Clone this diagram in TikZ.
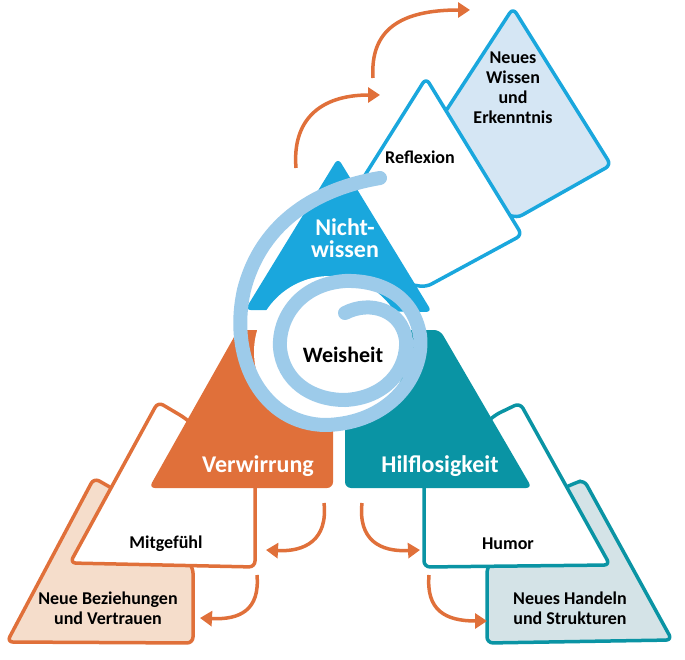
\documentclass[tikz,border=0pt]{standalone}
\usepackage{fontspec}
\setmainfont{Carlito}
\usetikzlibrary{arrows.meta}
\definecolor{cblue}{HTML}{1AA7DD}
\definecolor{corange}{HTML}{E0703A}
\definecolor{cteal}{HTML}{0A94A4}
\definecolor{cspiral}{HTML}{9DCBEA}
\definecolor{cpeach}{HTML}{F5DDCB}
\definecolor{cgrey}{HTML}{D4E3E7}
\definecolor{clight}{HTML}{D5E6F4}
\begin{document}
\begin{tikzpicture}[x=1pt,y=-1pt,
  sh/.style={line width=3.5pt,rounded corners=6pt,line join=round},
  arr/.style={corange,line width=3.5pt,-{Triangle[length=12pt,width=15pt]}},
  lab/.style={font=\bfseries\fontsize{18}{20}\selectfont,align=center,text=black},
  big/.style={font=\bfseries\fontsize{24}{24}\selectfont,align=center,text=white}]
\useasboundingbox (0,0) rectangle (685,660);
% top stack
\draw[sh,cblue,fill=clight] (513,8) -- (611,165) -- (517,218) -- (470,200) -- (440,120) -- cycle;
\draw[sh,cblue,fill=white] (426,78) -- (522,235) -- (426,287) -- (380,280) -- (340,215) -- cycle;
% left stack
\draw[sh,corange,fill=cpeach] (94,478) -- (115,490) -- (193,567) -- (193,643) -- (7,642) -- cycle;
\draw[sh,corange,fill=white] (158,402) -- (185,418) -- (255,480) -- (255,567) -- (70,563) -- cycle;
% right stack
\draw[sh,cteal,fill=cgrey] (584,480) -- (672,640) -- (487,643) -- (487,567) -- (560,490) -- (575,483) -- cycle;
\draw[sh,cteal,fill=white] (520,403) -- (610,565) -- (424,567) -- (424,480) -- (495,415) -- cycle;
% main triangles
\fill[cblue,rounded corners=6pt] (338,158) -- (432,312) -- (245,310) -- cycle;
\fill[corange,rounded corners=6pt] (238,330) -- (333,330) -- (333,488) -- (149,488) -- cycle;
\fill[cteal,rounded corners=6pt] (345,330) -- (440,330) -- (532,488) -- (345,488) -- cycle;
% white disc + spiral
\fill[white] (330,352) circle (76);
\draw[cspiral,line width=14pt,line cap=round]
  (380,178) .. controls (320,188) and (262,220) .. (244,290)
  .. controls (228,362) and (265,424) .. (325,425)
  .. controls (390,424) and (425,375) .. (420,335)
  .. controls (413,295) and (380,280) .. (345,281)
  .. controls (300,284) and (278,318) .. (280,348)
  .. controls (283,380) and (310,400) .. (345,400)
  .. controls (385,398) and (408,370) .. (406,340)
  .. controls (402,310) and (370,300) .. (345,313);
% nodes
\node[big] (nw) at (345,238) {Nicht-\\[-2pt]wissen};
\node[lab] (refl) at (420,157) {Reflexion};
\node[lab] (nwe) at (513,88) {Neues\\Wissen\\und\\Erkenntnis};
\node[font=\bfseries\fontsize{22}{24}\selectfont] (weis) at (343,355) {Weisheit};
\node[big] (ver) at (258,466) {Verwirrung};
\node[big] (hil) at (440,466) {Hilflosigkeit};
\node[lab] (mit) at (166,544) {Mitgefühl};
\node[lab] (hum) at (508,544) {Humor};
\node[lab] (nb) at (108,608) {Neue Beziehungen\\und Vertrauen};
\node[lab] (nh) at (570,608) {Neues Handeln\\und Strukturen};
% arrows
\coordinate (a1) at (296,168); \coordinate (b1) at (380,95);
\coordinate (a2) at (373,78); \coordinate (b2) at (470,10);
\coordinate (a3) at (324,503); \coordinate (b3) at (266,550);
\coordinate (a4) at (257,575); \coordinate (b4) at (200,618);
\coordinate (a5) at (362,503); \coordinate (b5) at (420,550);
\coordinate (a6) at (429,575); \coordinate (b6) at (487,621);
\draw[arr] (a1) .. controls (292,120) and (320,95) .. (b1);
\draw[arr] (a2) .. controls (370,30) and (400,10) .. (b2);
\draw[arr] (a3) .. controls (328,540) and (305,552) .. (b3);
\draw[arr] (a4) .. controls (260,610) and (240,620) .. (b4);
\draw[arr] (a5) .. controls (358,540) and (380,552) .. (b5);
\draw[arr] (a6) .. controls (426,610) and (445,621) .. (b6);
\end{tikzpicture}
\end{document}
